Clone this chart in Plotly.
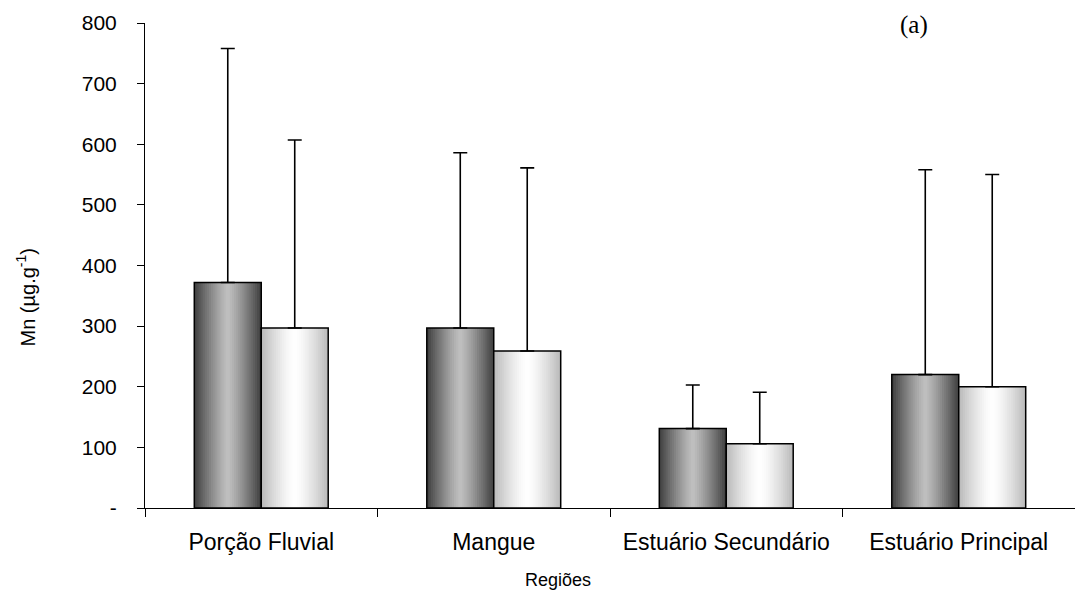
import plotly.graph_objects as go

# ---- data ----
categories = ["Porção Fluvial", "Mangue", "Estuário Secundário", "Estuário Principal"]
mean_a = [372, 297, 131, 220]
sd_a = [386, 289, 72, 338]
mean_b = [297, 259, 106, 200]
sd_b = [310, 302, 85, 350]
y_tickvals = [0, 100, 200, 300, 400, 500, 600, 700, 800]
y_ticktext = ["-", "100", "200", "300", "400", "500", "600", "700", "800"]

FONT = "Liberation Sans, Arial, sans-serif"

fig = go.Figure()

W = 0.288   # bar width in category units
N = 16      # gradient layers


def mix(dark, light, t):
    return "rgb({},{},{})".format(*[round(l + (d - l) * t) for d, l in zip(dark, light)])


def add_series(means, sds, center, dark, light, p):
    for k in range(N):
        f = 1 - k / N
        wk = W * f
        d = f - 0.5 / N
        fig.add_trace(go.Bar(
            x=categories, y=means, width=[wk] * len(categories),
            offset=[center - wk / 2] * len(categories),
            marker=dict(color=mix(dark, light, d ** p), line=dict(width=0)),
            hoverinfo="skip", showlegend=False))
    fig.add_trace(go.Bar(
        x=categories, y=means, width=[W] * len(categories),
        offset=[center - W / 2] * len(categories),
        marker=dict(color="rgba(0,0,0,0)", line=dict(color="black", width=1.5)),
        error_y=dict(type="data", array=sds, arrayminus=[0] * len(sds), symmetric=False,
                     color="black", thickness=1.6, width=7),
        showlegend=False))


add_series(mean_a, sd_a, -W / 2, (62, 62, 62), (192, 192, 192), 1.2)
add_series(mean_b, sd_b, W / 2, (184, 184, 184), (255, 255, 255), 1.4)

fig.update_layout(
    width=1075, height=605,
    margin=dict(l=145, r=0, t=23, b=97),
    paper_bgcolor="white", plot_bgcolor="white",
    barmode="overlay",
    font=dict(family=FONT, color="black"),
    xaxis=dict(
        type="category", showline=True, linecolor="black", linewidth=1,
        ticks="outside", tickson="boundaries", ticklen=8, tickcolor="black",
        tickfont=dict(size=23, family=FONT), showgrid=False, zeroline=False,
        ticklabelstandoff=13,
    ),
    yaxis=dict(
        range=[0, 800], tickvals=y_tickvals, ticktext=y_ticktext,
        showline=True, linecolor="black", linewidth=1,
        ticks="outside", ticklen=7, tickcolor="black",
        tickfont=dict(size=21, family=FONT), showgrid=False, zeroline=False,
        ticklabelstandoff=16,
    ),
    annotations=[
        dict(text="(a)", xref="paper", yref="paper", x=0.827, y=0.995,
             xanchor="center", yanchor="middle", showarrow=False,
             font=dict(family="Liberation Serif, Times New Roman, serif", size=25, color="black")),
        dict(text="Regiões", xref="paper", yref="paper", x=0.444, y=-0.148,
             xanchor="center", yanchor="middle", showarrow=False,
             font=dict(family=FONT, size=18, color="black")),
        dict(text="Mn (µg.g<sup>-1</sup>)", xref="paper", yref="paper", x=-0.128, y=0.434,
             xanchor="center", yanchor="middle", showarrow=False, textangle=-90,
             font=dict(family=FONT, size=20, color="black")),
    ],
)

fig.write_html("out.html", config={"displayModeBar": False},
               post_script="document.body.style.margin='0';")
